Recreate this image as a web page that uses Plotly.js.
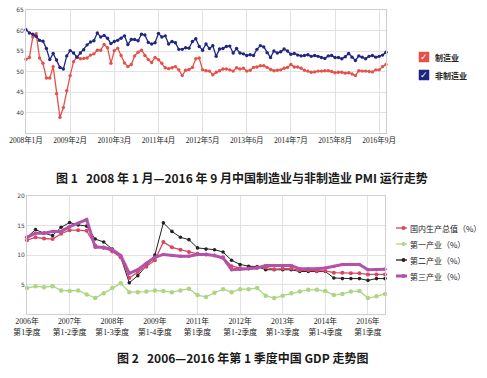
<!DOCTYPE html>
<html>
<head>
<meta charset="utf-8">
<script src="https://cdn.plot.ly/plotly-3.0.1.min.js"></script>
<style>html,body{margin:0;padding:0;background:#fff;}#chart{width:487px;height:378px;}</style>
</head>
<body>
<div id="chart"></div>
<script>
// ---------- Figure 1 : PMI (monthly, 2008-01 onward) ----------
const pmiTickLabels = ["2008年1月","2009年2月","2010年3月","2011年4月","2012年5月","2013年6月","2014年7月","2015年8月","2016年9月"];
const manufacturingPMI = [
  53.0,53.4,58.4,59.2,53.3,52.0,48.4,48.4,51.2,44.6,38.8,41.2,
  45.3,49.0,52.4,53.5,53.1,53.2,53.3,54.0,54.3,55.2,55.2,56.6,
  55.8,52.0,55.1,55.7,53.9,52.1,51.2,51.7,53.8,54.7,55.2,53.9,
  52.9,52.2,53.4,52.9,52.0,50.9,50.7,50.9,51.2,50.4,49.0,50.3,
  50.5,51.0,53.1,53.3,50.4,50.2,50.1,49.2,49.8,50.2,50.6,50.6,
  50.4,50.1,50.9,50.6,50.8,50.1,50.3,51.0,51.1,51.4,51.4,51.0,
  50.5,50.2,50.3,50.4,50.8,51.0,51.7,51.1,51.1,50.8,50.3,50.1,
  49.8,49.9,50.1,50.1,50.2,50.2,50.0,49.7,49.8,49.8,49.6,49.7,
  49.4,49.0,50.2,50.1,50.1,50.0,49.9,50.4,50.4,51.2,51.7
];
const nonManufacturingPMI = [
  60.2,59.4,59.1,58.6,57.6,57.4,55.6,52.9,54.4,52.8,51.0,50.6,
  53.8,55.1,54.5,53.5,54.5,55.3,56.5,57.2,57.5,59.4,58.4,58.8,
  58.1,56.8,57.3,57.6,58.1,58.7,56.6,57.8,57.8,57.5,59.1,58.9,
  57.1,56.7,57.0,59.3,58.4,58.7,56.7,57.3,57.0,55.4,55.4,55.8,
  55.7,57.3,58.0,56.1,55.2,56.7,55.6,56.3,53.7,55.5,55.6,56.1,
  56.2,54.5,55.6,54.5,54.3,53.9,54.1,53.9,55.4,56.3,56.0,54.6,
  53.4,55.0,54.5,54.8,55.5,55.0,54.2,54.4,54.0,53.8,53.9,54.1,
  53.7,53.9,53.7,53.4,53.2,53.8,53.9,53.4,53.4,53.1,53.6,54.4,
  53.5,52.7,53.8,53.5,53.1,53.7,53.9,53.5,53.7,54.0,54.7
];
const pmiSeriesNames = ["制造业","非制造业"];

// ---------- Figure 2 : GDP growth (cumulative quarterly, 2006 Q1 onward) ----------
const gdpTickLabels = ["2006年<br>第1季度","2007年<br>第1-2季度","2008年<br>第1-3季度","2009年<br>第1-4季度","2011年<br>第1季度","2012年<br>第1-2季度","2013年<br>第1-3季度","2014年<br>第1-4季度","2016年<br>第1季度"];
const gdpTotal = [12.5,13.0,12.8,12.7,13.6,14.2,14.2,14.1,11.6,11.2,10.6,9.6,6.1,7.1,8.0,9.1,12.2,11.3,10.9,10.5,10.2,10.1,9.9,9.6,8.1,7.8,7.7,7.9,7.9,7.6,7.7,7.7,7.4,7.4,7.3,7.3,7.0,7.0,6.9,6.9,6.7,6.7,6.7];
const primaryInd = [4.4,4.7,4.55,4.7,4.0,3.9,4.0,3.3,2.7,3.5,4.4,5.2,3.7,3.7,3.8,4.0,3.9,3.7,4.0,4.3,3.2,2.9,3.6,4.2,3.7,4.2,4.2,4.4,3.1,2.7,3.1,3.5,3.8,4.1,4.1,3.9,3.2,3.4,3.8,3.9,2.7,3.0,3.4];
const secondaryInd = [13.0,14.3,13.7,13.3,14.7,15.5,15.1,14.9,12.7,12.2,11.0,9.6,5.3,6.5,8.2,10.0,15.45,14.0,13.0,12.6,11.2,11.0,10.9,10.5,9.1,8.4,8.1,8.05,7.5,7.5,7.5,7.5,7.2,7.2,7.2,7.2,6.1,6.0,6.0,6.0,5.7,6.0,6.0];
const tertiaryInd = [13.0,13.7,13.7,14.0,14.0,14.8,15.4,16.0,11.3,11.3,10.9,9.9,6.9,7.5,8.6,9.6,10.1,9.9,9.8,9.8,10.1,10.1,9.9,9.5,7.5,7.6,7.65,7.8,8.2,8.2,8.2,8.2,7.65,7.65,7.65,7.8,8.05,8.4,8.4,8.4,7.5,7.5,7.6];
const gdpSeriesNames = ["国内生产总值（%）","第一产业（%）","第二产业（%）","第三产业（%）"];

// ---------- helpers ----------
const W = 487, H = 378;
const px = x => x / W;
const py = y => 1 - y / H;
const idx = arr => arr.map((_, i) => i);
const cjk = '"Noto Sans CJK SC", "Noto Sans", sans-serif';
const serif = '"Liberation Serif", "DejaVu Serif", "Noto Sans CJK SC", serif';

const pmiColors = ["#e5504a", "#1f2580"];
const gdpColors = ["#da4560", "#acd683", "#222222", "#b352a9"];

const traces = [];
[manufacturingPMI, nonManufacturingPMI].forEach((s, k) => {
  traces.push({
    x: idx(s), y: s, name: pmiSeriesNames[k], type: 'scatter', mode: 'lines+markers',
    xaxis: 'x', yaxis: 'y', cliponaxis: false,
    line: {color: pmiColors[k], width: 1.3},
    marker: {color: pmiColors[k], size: 3.4},
    hoverinfo: 'skip'
  });
});
const gdpAll = [gdpTotal, primaryInd, secondaryInd, tertiaryInd];
const gdpStyle = [
  {w: 1.3, m: 4},
  {w: 1.3, m: 4.5},
  {w: 1.0, m: 3.6},
  {w: 3.0, m: 3.5}
];
[1, 2, 0, 3].forEach(k => {
  const s = gdpAll[k];
  traces.push({
    x: idx(s), y: s, name: gdpSeriesNames[k], type: 'scatter', mode: 'lines+markers',
    xaxis: 'x2', yaxis: 'y2', cliponaxis: false,
    line: {color: gdpColors[k], width: gdpStyle[k].w},
    marker: {color: gdpColors[k], size: gdpStyle[k].m},
    hoverinfo: 'skip'
  });
});

const gridC = '#e2e2e2', lineC = '#cfcfcf';
const axisCommon = {
  showgrid: true, gridcolor: gridC, gridwidth: 1, zeroline: false,
  showline: true, mirror: true, linecolor: lineC, linewidth: 1,
  ticks: '', fixedrange: true
};

const shapes = [];
const annotations = [];

// Figure 1 legend (check boxes)
[[52, 62], [70, 80]].forEach((yy, k) => {
  shapes.push({type: 'rect', xref: 'paper', yref: 'paper',
    x0: px(419), x1: px(429), y0: py(yy[1]), y1: py(yy[0]),
    fillcolor: pmiColors[k], line: {color: pmiColors[k], width: 0.5}});
  annotations.push({xref: 'paper', yref: 'paper', x: px(424), y: py((yy[0] + yy[1]) / 2),
    text: '✓', showarrow: false, font: {family: '"DejaVu Sans"', size: 9, color: '#ffffff'},
    xanchor: 'center', yanchor: 'middle'});
  annotations.push({xref: 'paper', yref: 'paper', x: px(433), y: py((yy[0] + yy[1]) / 2 + 1),
    text: '<b>' + pmiSeriesNames[k] + '</b>', showarrow: false,
    font: {family: serif, size: 8, color: '#222'}, xanchor: 'left', yanchor: 'middle'});
});

// Figure 2 legend (line + marker)
const legRows = [228, 244, 260, 276];
legRows.forEach((yy, k) => {
  shapes.push({type: 'line', xref: 'paper', yref: 'paper',
    x0: px(396), x1: px(407), y0: py(yy), y1: py(yy),
    line: {color: gdpColors[k], width: k === 3 ? 3 : 1.3}});
  shapes.push({type: 'circle', xref: 'paper', yref: 'paper',
    x0: px(401.5), x1: px(405.5), y0: py(yy + 2), y1: py(yy - 2),
    fillcolor: gdpColors[k], line: {width: 0}});
  annotations.push({xref: 'paper', yref: 'paper', x: px(408), y: py(yy),
    text: gdpSeriesNames[k], showarrow: false,
    font: {family: cjk, size: 8, color: '#222'}, xanchor: 'left', yanchor: 'middle'});
});

// Captions
annotations.push({xref: 'paper', yref: 'paper', x: px(242), y: py(177),
  text: '<b>图 1\u00a0\u00a0 2008 年 1 月—2016 年 9 月中国制造业与非制造业 PMI 运行走势</b>',
  showarrow: false, font: {family: cjk, size: 12, color: '#1a1a1a'}, xanchor: 'center', yanchor: 'middle'});
annotations.push({xref: 'paper', yref: 'paper', x: px(242), y: py(357),
  text: '<b>图 2\u00a0\u00a0 2006—2016 年第 1 季度中国 GDP 走势图</b>',
  showarrow: false, font: {family: cjk, size: 12, color: '#1a1a1a'}, xanchor: 'center', yanchor: 'middle'});

const layout = {
  width: W, height: H,
  margin: {l: 0, r: 0, t: 0, b: 0},
  paper_bgcolor: '#ffffff', plot_bgcolor: '#ffffff',
  showlegend: false,
  xaxis: Object.assign({}, axisCommon, {
    domain: [px(26), px(386)], range: [0, 106], anchor: 'y',
    tickmode: 'array', tickvals: pmiTickLabels.map((_, i) => i * 13), ticktext: pmiTickLabels,
    tickfont: {family: serif, size: 7.5, color: '#222'}, tickangle: 0
  }),
  yaxis: Object.assign({}, axisCommon, {
    domain: [py(133), py(10)], range: [35, 65], anchor: 'x',
    tickmode: 'array', tickvals: [40, 45, 50, 55, 60, 65],
    tickfont: {family: '"DejaVu Sans"', size: 6, color: '#444'}
  }),
  xaxis2: Object.assign({}, axisCommon, {
    domain: [px(27), px(385)], range: [0, 42], anchor: 'y2',
    tickmode: 'array', tickvals: gdpTickLabels.map((_, i) => i * 5), ticktext: gdpTickLabels,
    tickfont: {family: serif, size: 7.8, color: '#222'}, tickangle: 0
  }),
  yaxis2: Object.assign({}, axisCommon, {
    domain: [py(314), py(196)], range: [0, 20], anchor: 'x2',
    tickmode: 'array', tickvals: [5, 10, 15, 20],
    tickfont: {family: '"DejaVu Sans"', size: 6, color: '#444'}
  }),
  shapes: shapes,
  annotations: annotations
};

Plotly.newPlot('chart', traces, layout, {staticPlot: true, displayModeBar: false});
</script>
</body>
</html>
